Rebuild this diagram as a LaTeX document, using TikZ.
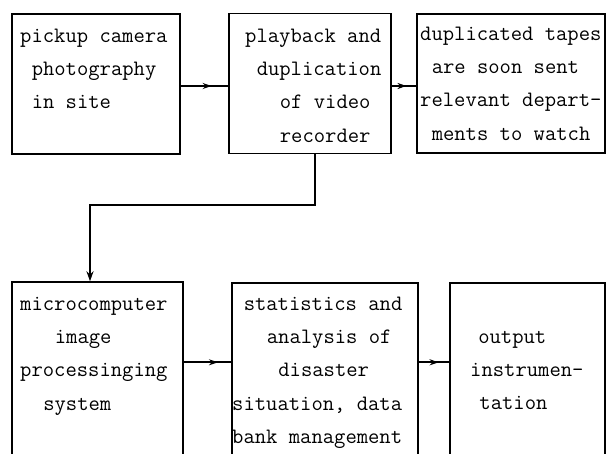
\documentclass[tikz,border=0pt]{standalone}
\usepackage{fontspec}
\usetikzlibrary{arrows.meta,decorations.markings}
\newcommand\ind[1]{\hspace*{#1\dimexpr 0.525em\relax}}
\newcommand\firststrut{\rule{0pt}{15pt}}
\tikzset{
  box/.style={draw, line width=1.4pt, inner sep=0pt, rectangle},
  txt/.style={anchor=north west, inner sep=0pt, align=left,
    font=\ttfamily\fontsize{22}{33.3}\selectfont},
  conn/.style={line width=1.8pt},
  midarrow/.style={postaction={decorate}, decoration={markings,
    mark=at position #1 with {\arrow{Stealth[length=9pt,width=6pt]}}}}
}
\begin{document}
\begin{tikzpicture}[x=1pt,y=-1pt]
\useasboundingbox (0,0) rectangle (607,454);
\clip (0,0) rectangle (607,454);
% boxes
\node[box, minimum width=168pt, minimum height=140pt] (b1) at (96,84) {};
\node[box, minimum width=162pt, minimum height=140pt] (b2) at (310,83.5) {};
\node[box, minimum width=188pt, minimum height=139pt] (b3) at (511,83.5) {};
\node[box, minimum width=171pt, minimum height=200pt] (b4) at (97.5,382) {};
\node[box, minimum width=186pt, minimum height=200pt] (b5) at (325,383) {};
\node[box, minimum width=155pt, minimum height=200pt] (b6) at (527.5,383) {};
% texts
\node[txt] (t1) at (20,27) {\firststrut pickup camera\\\ind{1}photography\\\ind{1}in site};
\node[txt] (t2) at (245,27) {\firststrut playback and\\\ind{1}duplication\\\ind{3}of video\\\ind{3}recorder};
\node[txt] (t3) at (420,25) {\firststrut duplicated tapes\\\ind{1}are soon sent\\relevant depart-\\\ind{1}ments to watch};
\node[txt] (t4) at (20,295) {\firststrut microcomputer\\\ind{3}image\\processinging\\\ind{2}system};
\node[txt] (t5) at (232,295) {\firststrut\ind{1}statistics and\\\ind{3}analysis of\\\ind{4}disaster\\situation, data\\bank management};
\node[txt] (t6) at (470,328) {\firststrut\ind{0.7}output\\instrumen-\\\ind{0.8}tation};
% connectors
\draw[conn, midarrow=0.65] ([yshift=-2pt]b1.east) -- ([yshift=-2.5pt]b2.west);
\draw[conn, midarrow=0.6] ([yshift=-2.5pt]b2.east) -- ([yshift=-2.5pt]b3.west);
\coordinate (bend) at (315,205);
\draw[conn, -{Stealth[length=10pt,width=7pt]}] ([xshift=5pt]b2.south) -- (bend) -| ([xshift=-7.5pt]b4.north);
\draw[conn, midarrow=0.72] ([yshift=-81pt]b4.north east) -- ([yshift=-80pt]b5.north west);
\draw[conn, midarrow=0.65] ([yshift=-80pt]b5.north east) -- ([yshift=-80pt]b6.north west);
\end{tikzpicture}
\end{document}
